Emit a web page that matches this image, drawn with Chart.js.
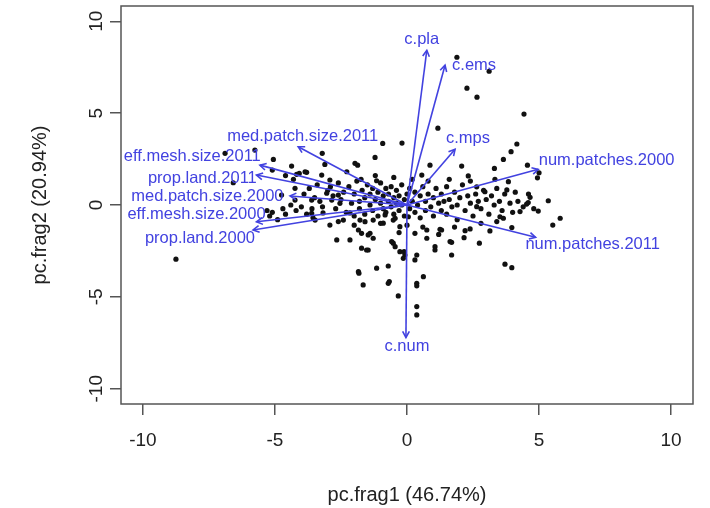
<!DOCTYPE html>
<html>
<head>
<meta charset="utf-8">
<script src="https://cdn.jsdelivr.net/npm/chart.js@4.4.1/dist/chart.umd.min.js"></script>
<style>
  html, body { margin: 0; padding: 0; background: #fff; }
</style>
</head>
<body>
<canvas id="biplot" width="710" height="508"></canvas>
<script>
// PCA scores (pc.frag1, pc.frag2)
var scores = [
  [1.89,8.04],[3.11,7.28],[2.27,6.36],[2.65,5.87],[4.43,4.95],[1.17,4.18],[-0.19,3.37],[-0.92,3.35],
  [4.16,3.32],[3.94,2.90],[3.65,2.48],[2.07,2.12],[4.56,2.17],[3.31,1.99],[2.32,1.58],[3.33,1.40],
  [3.84,1.27],[4.94,1.48],[5.0,1.75],[2.64,0.99],[2.95,0.72],[3.78,0.82],[5.35,0.23],[4.66,0.42],
  [4.53,0.05],[0.87,2.17],[0.56,1.63],[-1.21,2.59],[-1.87,2.17],[-1.15,1.32],[-1.74,1.40],
  [-5.06,2.48],[-3.21,2.81],[-3.11,2.21],[-4.37,2.12],[-4.08,1.72],[-3.80,1.78],[-3.23,1.63],
  [-2.92,1.36],[-4.24,0.91],[-3.61,0.27],[-3.04,0.64],[-2.60,0.54],[-2.54,0.09],[-1.97,2.27],
  [-2.28,1.81],[-2.85,0.27],[-5.76,2.99],[-6.89,2.81],[-6.58,1.21],[-4.18,1.67],[-3.86,1.81],
  [-8.75,-2.95],[-4.75,0.54],[-4.24,0.27],[-3.61,-0.45],[-3.48,-0.82],[-2.92,-1.09],[-2.66,-1.90],
  [-2.16,-1.90],[-1.84,-1.36],[-1.53,-2.45],[-1.84,-3.63],[-1.15,-3.44],[-0.71,-3.32],[-1.66,-4.35],
  [-0.67,-4.17],[-0.33,-4.95],[-0.52,-2.08],[-0.27,-2.54],[-2.41,-0.82],[-1.78,-0.82],[-1.40,-1.54],
  [-0.90,-0.99],[-0.52,-0.82],[-3.18,-0.43],[-2.16,-0.43],[-0.27,-1.18],
  [-1.59,-0.91],[-1.28,-0.82],[-1.72,-1.54],[-1.47,-1.63],[-1.28,-1.81],[-1.72,-2.35],[-1.47,-2.45],
  [-0.58,-1.99],[-0.45,-2.27],[-0.08,-2.72],[-0.14,-2.90],[0.37,-2.72],[0.30,-2.99],[-1.82,-3.71],
  [0.62,-3.90],[1.06,-2.27],[1.06,-2.45],[1.69,-2.72],[0.75,-1.36],[0.75,-1.81],[1.31,-1.36],
  [1.63,-1.99],[-0.71,-4.26],[0.37,-4.26],[0.05,-0.64],[0.30,-1.54],[-0.45,-0.72],[-0.83,-0.54],
  [3.65,-0.72],[3.97,-1.23],[3.14,-1.41],[2.39,-1.30],[2.16,-1.78],[2.74,-2.08],[1.69,-2.03],
  [3.71,-3.22],[3.97,-3.41],[5.52,-1.09],[5.80,-0.72],[4.97,-0.33],[4.28,-0.36],[4.59,0.13],
  [0.37,-5.53],[0.37,-5.98],[0.37,-4.40],[-0.11,-2.54],[1.25,-1.32],[3.52,-0.64],[2.64,-0.09],
  [-3.9,0.6],[-3.7,0.9],[-3.5,0.4],[-3.4,1.1],[-3.3,0.2],[-3.2,-0.1],[-3.0,0.8],[-2.9,1.0],
  [-2.8,0.5],[-2.7,-0.2],[-2.6,1.2],[-2.5,0.3],[-2.4,0.7],[-2.3,-0.4],[-2.2,1.0],[-2.1,0.1],
  [-2.0,0.6],[-2.0,-0.6],[-1.9,1.3],[-1.8,0.2],[-1.8,-0.2],[-1.7,0.8],[-1.6,0.4],[-1.6,-0.5],
  [-1.5,1.1],[-1.4,0.0],[-1.4,0.6],[-1.3,-0.3],[-1.3,0.9],[-1.2,0.3],[-1.1,-0.6],[-1.1,0.7],
  [-1.0,0.1],[-1.0,1.2],[-0.9,-0.2],[-0.9,0.5],[-0.8,0.9],[-0.8,-0.4],[-0.7,0.2],[-0.7,0.6],
  [-0.6,-0.1],[-0.6,1.0],[-0.5,0.4],[-0.5,-0.5],[-0.4,0.1],[-0.4,0.8],[-0.3,-0.3],[-0.3,0.5],
  [-0.2,0.0],[-0.2,1.1],[-0.1,0.3],[-0.1,-0.6],[0.0,0.6],[0.1,-0.2],[0.1,0.9],[0.2,0.2],
  [0.3,-0.4],[0.3,0.7],[0.4,0.0],[0.5,0.5],[0.5,-0.7],[0.6,1.0],[0.7,0.2],[0.7,-0.3],
  [0.8,0.6],[0.9,-0.1],[1.0,0.4],[1.0,-0.6],[1.1,0.9],[1.2,0.1],[1.3,-0.3],[1.3,0.6],
  [1.4,0.2],[1.5,-0.5],[1.5,1.0],[1.6,0.3],[1.7,-0.1],[1.8,0.7],[1.9,0.0],[1.9,-0.8],
  [2.0,0.4],[2.1,1.1],[2.2,-0.3],[2.3,0.5],[2.4,0.1],[2.5,-0.6],[2.6,0.6],[2.7,0.2],
  [2.8,-0.2],[2.9,0.8],[3.0,0.3],[3.1,-0.5],[3.2,0.5],[3.3,0.0],[3.4,0.9],[3.5,0.2],
  [3.6,-0.3],[3.7,0.6],[3.9,0.1],[4.0,-0.4],[4.1,0.7],[4.2,0.2],[4.4,-0.1],[4.6,0.6],[4.8,-0.2],
  [-5.3,-0.3],[-5.2,-0.6],[-5.1,-0.4],[-4.9,-0.8],[-4.7,-0.2],[-4.6,-0.5],[-4.4,0.0],[-4.2,-0.3],
  [-4.0,-0.1],[-3.8,-0.5],[-3.6,-0.2],[-5.1,1.9],[-4.6,1.6],[-4.3,1.4],[-3.56,-0.7],
  [-0.5,1.5],[0.2,1.4],[-1.2,1.6],[0.8,1.3],[1.6,1.4],[2.4,1.3],[-2.6,-0.9],[-2.0,-1.1],
  [-1.0,-1.0],[0.0,-1.1],[0.6,-1.2],[1.8,-1.2],[2.8,-1.0],[3.4,-0.9],[-0.3,-1.5],[1.2,-1.6],[2.2,-1.4]
];

// variable loadings (arrow tips) and where their names sit
var varNames = ['c.pla','c.ems','c.mps','num.patches.2000','num.patches.2011','c.num',
  'med.patch.size.2011','eff.mesh.size.2011','prop.land.2011','med.patch.size.2000',
  'eff.mesh.size.2000','prop.land.2000'];
var loadX = [0.75, 1.44, 1.82, 4.97, 4.87, -0.04, -4.12, -5.57, -5.70, -4.43, -5.70, -5.83];
var loadY = [8.42, 7.61, 3.03, 1.94, -1.76, -7.21, 3.17, 2.17, 1.63, 0.49, -0.91, -1.36];
var labelX = [0.56, 2.54, 2.31, 7.56, 7.03, 0.0, -3.95, -8.13, -7.75, -7.56, -7.97, -7.84];
var labelY = [9.01, 7.57, 3.64, 2.45, -2.14, -7.72, 3.71, 2.63, 1.45, 0.49, -0.51, -1.81];

var tickVals = [-10, -5, 0, 5, 10];
var axisLimit = 10.83;

var blue = 'rgb(66,66,224)';
var fontFam = '"Liberation Sans", Arial, Helvetica, sans-serif';

var datasets = [{
  label: 'scores',
  data: scores.map(function(p){ return {x: p[0], y: p[1]}; }),
  backgroundColor: '#111',
  borderWidth: 0,
  pointRadius: 2.6,
  order: 2
}];
for (var i = 0; i < varNames.length; i++) {
  datasets.push({
    label: varNames[i],
    data: [{x: 0, y: 0}, {x: loadX[i], y: loadY[i]}],
    showLine: true,
    borderColor: blue,
    borderWidth: 1.6,
    pointRadius: 0,
    order: 1
  });
}

var biplotExtras = {
  id: 'biplotExtras',
  afterDatasetsDraw: function(chart) {
    var ctx = chart.ctx, xs = chart.scales.x, ys = chart.scales.y, a = chart.chartArea;
    ctx.save();
    var x0 = xs.getPixelForValue(0), y0 = ys.getPixelForValue(0);
    for (var i = 0; i < varNames.length; i++) {
      var x1 = xs.getPixelForValue(loadX[i]), y1 = ys.getPixelForValue(loadY[i]);
      var ang = Math.atan2(y1 - y0, x1 - x0);
      ctx.strokeStyle = blue;
      ctx.lineWidth = 1.6;
      ctx.beginPath();
      ctx.moveTo(x1 - 7 * Math.cos(ang - 0.5), y1 - 7 * Math.sin(ang - 0.5));
      ctx.lineTo(x1, y1);
      ctx.lineTo(x1 - 7 * Math.cos(ang + 0.5), y1 - 7 * Math.sin(ang + 0.5));
      ctx.stroke();
      ctx.fillStyle = blue;
      ctx.font = '16.5px ' + fontFam;
      ctx.textAlign = 'center';
      ctx.textBaseline = 'middle';
      ctx.fillText(varNames[i], xs.getPixelForValue(labelX[i]), ys.getPixelForValue(labelY[i]));
    }
    // frame around the plot region
    ctx.strokeStyle = '#555';
    ctx.lineWidth = 1.5;
    ctx.strokeRect(a.left, a.top, a.right - a.left, a.bottom - a.top);
    ctx.restore();
  }
};

var ctx = document.getElementById('biplot');
new Chart(ctx, {
  type: 'scatter',
  data: { datasets: datasets },
  plugins: [biplotExtras],
  options: {
    responsive: false,
    animation: false,
    layout: { padding: { top: 6, right: 17, left: 0, bottom: 0 } },
    plugins: { legend: { display: false }, tooltip: { enabled: false } },
    scales: {
      x: {
        type: 'linear',
        min: -axisLimit, max: axisLimit,
        afterBuildTicks: function(s) { s.ticks = tickVals.map(function(v){ return {value: v}; }); },
        afterFit: function(s) { s.height = 104; },
        grid: { drawOnChartArea: false, drawTicks: true, tickLength: 11, color: '#555', lineWidth: 1.5 },
        border: { display: false },
        ticks: { padding: 14, color: '#222', maxRotation: 0, font: { family: fontFam, size: 19 } },
        title: { display: true, text: 'pc.frag1 (46.74%)', color: '#222',
                 font: { family: fontFam, size: 20 }, padding: { top: 0, bottom: 1 } }
      },
      y: {
        type: 'linear',
        min: -axisLimit, max: axisLimit,
        afterBuildTicks: function(s) { s.ticks = tickVals.map(function(v){ return {value: v}; }); },
        afterFit: function(s) { s.width = 121; s.paddingTop = 0; s.paddingBottom = 0; },
        grid: { drawOnChartArea: false, drawTicks: true, tickLength: 11, color: '#555', lineWidth: 1.5 },
        border: { display: false },
        ticks: { padding: 0, color: '#222', minRotation: 90, maxRotation: 90, crossAlign: 'center',
                 font: { family: fontFam, size: 19 } },
        title: { display: true, text: 'pc.frag2 (20.94%)', color: '#222',
                 font: { family: fontFam, size: 20 }, padding: { top: 28, bottom: 0 } }
      }
    }
  }
});
</script>
</body>
</html>
